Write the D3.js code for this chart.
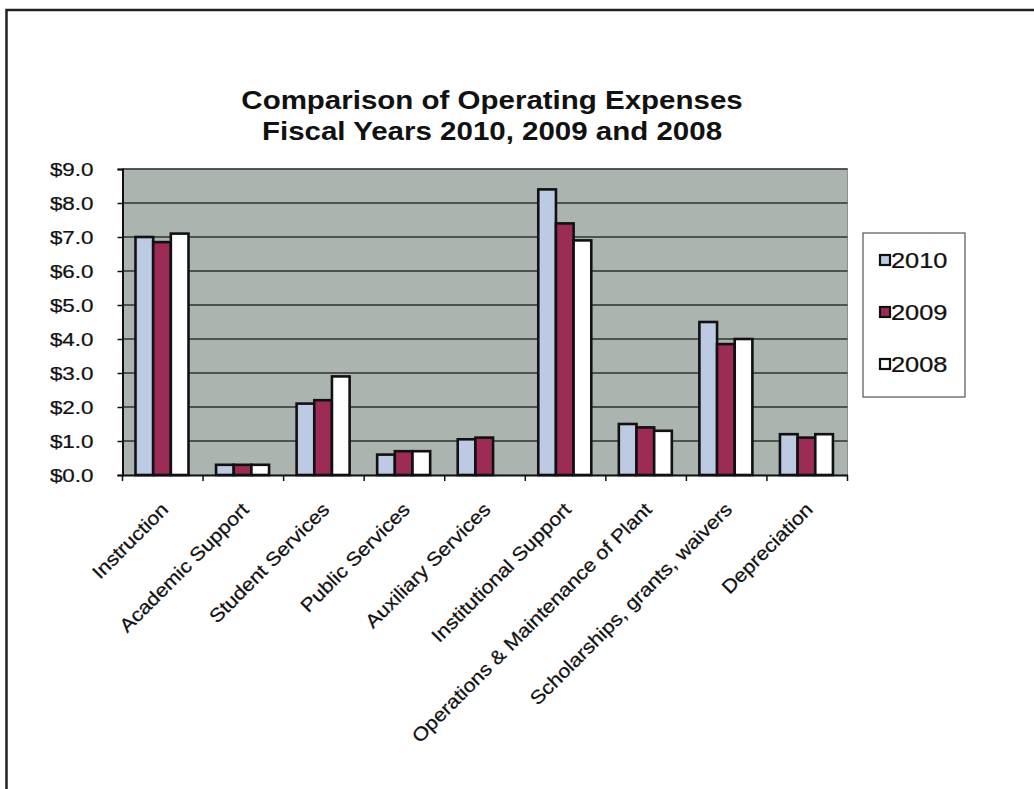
<!DOCTYPE html>
<html>
<head>
<meta charset="utf-8">
<script src="https://cdn.jsdelivr.net/npm/d3@7"></script>
<style>
  body { margin: 0; background: #fff; }
  text { font-family: "Liberation Sans", Arial, sans-serif; fill: #111; }
  .lbl { stroke: #111; stroke-width: 0.25px; }
</style>
</head>
<body>
<div id="chart"></div>
<script>
// data ($ millions)
const categories = ["Instruction", "Academic Support", "Student Services", "Public Services",
  "Auxiliary Services", "Institutional Support", "Operations & Maintenance of Plant",
  "Scholarships, grants, waivers", "Depreciation"];
const years = ["2010", "2009", "2008"];
const values2010 = [7.0, 0.3, 2.1, 0.6, 1.05, 8.4, 1.5, 4.5, 1.2];
const values2009 = [6.85, 0.3, 2.2, 0.7, 1.1, 7.4, 1.4, 3.85, 1.1];
const values2008 = [7.1, 0.3, 2.9, 0.7, 0, 6.9, 1.3, 4.0, 1.2];
const yTicks = [0, 1, 2, 3, 4, 5, 6, 7, 8, 9];
const titleLines = ["Comparison of Operating Expenses", "Fiscal Years 2010, 2009 and 2008"];

const colors = { "2010": "#bccbe3", "2009": "#9c2b56", "2008": "#ffffff" };
const seriesVals = { "2010": values2010, "2009": values2009, "2008": values2008 };

const W = 1034, H = 789;
const plot = { left: 122.5, right: 847.5, top: 169, bottom: 475 };
const stretch = 1.18; // the scan is a bit wider than the font

const svg = d3.select("#chart").append("svg")
  .attr("width", W).attr("height", H);

svg.append("rect").attr("width", W).attr("height", H).attr("fill", "#fff");

// frame of the scanned page (top and left edges only are visible)
svg.append("path")
  .attr("d", `M6.5,${H} L6.5,10 L${W},10`)
  .attr("fill", "none").attr("stroke", "#1d2321").attr("stroke-width", 2.5);

// title
svg.selectAll(".title").data(titleLines).enter().append("text")
  .attr("class", "title")
  .attr("transform", (d, i) => `translate(492,${109 + i * 31}) scale(${stretch},1)`)
  .attr("text-anchor", "middle")
  .style("font-size", "25px").style("font-weight", "bold")
  .text(d => d);

const x = d3.scaleBand().domain(categories).range([plot.left, plot.right]).padding(0);
const xs = d3.scaleBand().domain(years).range([13, 66]).padding(0);
const y = d3.scaleLinear().domain([0, 9]).range([plot.bottom, plot.top]);

// plot area
svg.append("rect")
  .attr("x", plot.left).attr("y", plot.top)
  .attr("width", plot.right - plot.left).attr("height", plot.bottom - plot.top)
  .attr("fill", "#abb4af").attr("stroke", "#8a918e").attr("stroke-width", 1);

// gridlines
svg.append("g").selectAll("line").data(yTicks.filter(d => d > 0)).enter().append("line")
  .attr("x1", plot.left).attr("x2", plot.right)
  .attr("y1", d => y(d)).attr("y2", d => y(d))
  .attr("stroke", "#2e3431").attr("stroke-width", 1.5);

// bars
const groups = svg.append("g").selectAll("g").data(categories).enter().append("g")
  .attr("transform", d => `translate(${x(d)},0)`);

groups.selectAll("rect")
  .data((c, i) => years.map(yr => ({ yr: yr, v: seriesVals[yr][i] })).filter(d => d.v > 0))
  .enter().append("rect")
  .attr("x", d => xs(d.yr))
  .attr("y", d => y(d.v))
  .attr("width", xs.bandwidth())
  .attr("height", d => y(0) - y(d.v))
  .attr("fill", d => colors[d.yr])
  .attr("stroke", "#111").attr("stroke-width", 2.6);

// y axis
const yAxis = svg.append("g")
  .attr("transform", `translate(${plot.left},0)`)
  .call(d3.axisLeft(y).tickValues(yTicks).tickSize(5).tickPadding(29)
    .tickFormat(d => "$" + d.toFixed(1)));
yAxis.select(".domain").attr("stroke", "#111").attr("stroke-width", 2);
yAxis.selectAll(".tick line").attr("stroke", "#111").attr("stroke-width", 1.5);
yAxis.selectAll(".tick text")
  .attr("class", "lbl")
  .attr("x", 0)
  .attr("transform", `translate(-29,0) scale(${stretch},1)`)
  .style("font-size", "19px").attr("fill", "#111");

// x axis: tick marks at category boundaries, rotated labels
const xAxis = svg.append("g")
  .attr("transform", `translate(0,${plot.bottom})`)
  .call(d3.axisBottom(x).tickSize(0).tickPadding(0).tickFormat(""));
xAxis.select(".domain").attr("stroke", "#111").attr("stroke-width", 2);

const edges = categories.map(c => x(c)).concat([x(categories[categories.length - 1]) + x.bandwidth()]);
svg.append("g").selectAll("line").data(edges).enter().append("line")
  .attr("x1", d => d).attr("x2", d => d)
  .attr("y1", plot.bottom).attr("y2", plot.bottom + 6)
  .attr("stroke", "#111").attr("stroke-width", 1.5);

svg.append("g").selectAll("text").data(categories).enter().append("text")
  .attr("class", "lbl")
  .attr("transform", d => `translate(${x(d) + x.bandwidth() / 2 + 2},${plot.bottom + 31}) rotate(-45) scale(1.12,1)`)
  .attr("text-anchor", "end")
  .attr("dy", "0.35em")
  .style("font-size", "19px")
  .text(d => d);

// legend
const legend = svg.append("g").attr("transform", "translate(863,233)");
legend.append("rect")
  .attr("width", 102).attr("height", 164)
  .attr("fill", "#fff").attr("stroke", "#333").attr("stroke-width", 1);
const li = legend.selectAll("g").data(years).enter().append("g")
  .attr("transform", (d, i) => `translate(17,${27 + i * 52})`);
li.append("rect")
  .attr("x", 0).attr("y", -5).attr("width", 10).attr("height", 10)
  .attr("fill", d => colors[d]).attr("stroke", "#111").attr("stroke-width", 2.2);
li.append("text")
  .attr("class", "lbl")
  .attr("transform", `translate(11,0) scale(${stretch},1)`)
  .attr("dy", "0.35em")
  .style("font-size", "21.5px")
  .text(d => d);
</script>
</body>
</html>
